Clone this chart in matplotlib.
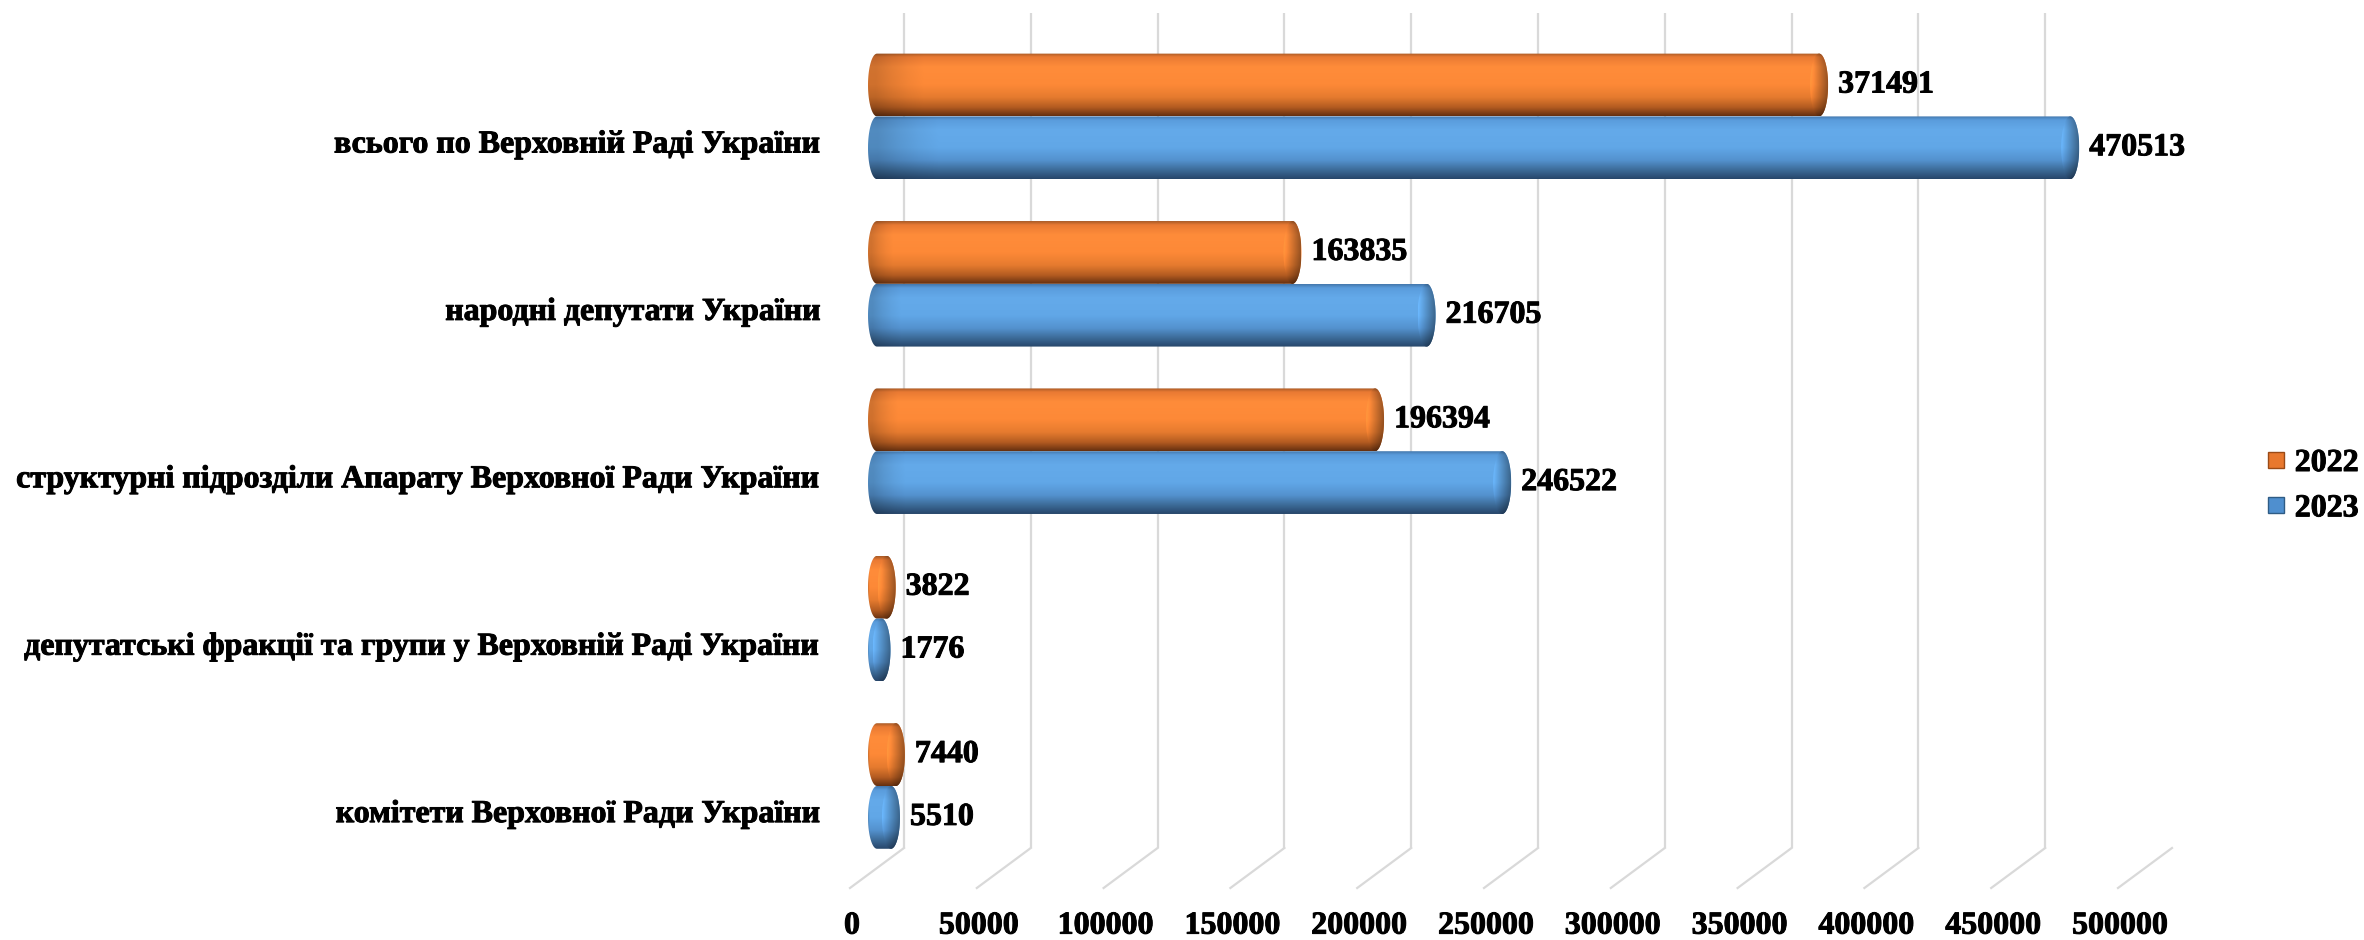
import numpy as np
import matplotlib
matplotlib.use("Agg")
import matplotlib.pyplot as plt
from matplotlib.path import Path
from matplotlib.patches import PathPatch
from matplotlib.lines import Line2D
from matplotlib.colors import to_rgb
from matplotlib.transforms import ScaledTranslation
import matplotlib.patheffects as pe

# ---------------- data ----------------
categories = [
    "комітети Верховної Ради України",
    "депутатські фракції та групи у Верховній Раді України",
    "структурні підрозділи Апарату Верховної Ради України",
    "народні депутати України",
    "всього по Верховній Раді України",
]
values_2022 = [7440, 3822, 196394, 163835, 371491]
values_2023 = [5510, 1776, 246522, 216705, 470513]
series_names = ["2022", "2023"]
x_ticks = [0, 50000, 100000, 150000, 200000, 250000, 300000, 350000, 400000, 450000, 500000]

# ---------------- style ----------------
W_PX, H_PX, DPI = 2364, 940, 100
FONT = "Liberation Serif"
FS = 23
plt.rcParams["font.family"] = [FONT, "DejaVu Serif"]
plt.rcParams["font.weight"] = "bold"
heavy = [pe.withStroke(linewidth=0.7, foreground="black")]

fig = plt.figure(figsize=(W_PX / DPI, H_PX / DPI), dpi=DPI)
fig.patch.set_facecolor("white")

AX_L, AX_W = 877, 1268          # pixels
AX_B, AX_T = 52, 940
CAT_PX0, CAT_STEP = 154, 167.4  # pixel of category 0 centre, spacing
ax = fig.add_axes([AX_L / W_PX, AX_B / H_PX, AX_W / W_PX, (AX_T - AX_B) / H_PX])
XMAX = 500000
sx = AX_W / XMAX                 # px per unit
def py(p):                       # figure pixel (from bottom) -> y data
    return (p - CAT_PX0) / CAT_STEP

ylo, yhi = py(AX_B), py(AX_T)
for s in ax.spines.values():
    s.set_visible(False)

# ---- 3-D style gridlines (back wall + floor) ----
depth_px = 27
grid_c = "#d9d9d9"
for t in x_ticks:
    xb = t + depth_px / sx
    xf = t - depth_px / sx
    ax.plot([xb, xb], [py(927), py(92)], color=grid_c, lw=1.6, zorder=0, solid_capstyle="butt")
    ax.plot([xb, xf], [py(92), py(52)], color=grid_c, lw=1.6, zorder=0, clip_on=False)

# ---- cylinder bars ----
def stops_to_grad(stops, n=200):
    ts = np.array([s[0] for s in stops])
    cs = np.array([to_rgb(s[1]) for s in stops])
    t = np.linspace(0, 1, n)
    return np.stack([np.interp(t, ts, cs[:, k]) for k in range(3)], axis=1)

orange_stops = [(0.0, "#a85a26"), (0.06, "#e97a33"), (0.22, "#ff8c3a"), (0.5, "#fd8937"),
                (0.7, "#e67b2f"), (0.86, "#b45c21"), (1.0, "#653010")]
blue_stops = [(0.0, "#4478ad"), (0.06, "#5a9cdc"), (0.22, "#64aaea"), (0.5, "#61a7e7"),
              (0.7, "#5492cf"), (0.86, "#3c6a97"), (1.0, "#27466a")]
grads = {"2022": stops_to_grad(orange_stops), "2023": stops_to_grad(blue_stops)}

CAP_PX = 9
cap = CAP_PX / sx
BAR_H = 0.375

def capsule(v, yc, h):
    th = np.linspace(np.pi / 2, 3 * np.pi / 2, 60)
    left = np.column_stack([cap * np.cos(th), yc + h / 2 * np.sin(th)])
    th2 = np.linspace(-np.pi / 2, np.pi / 2, 60)
    right = np.column_stack([v + cap * np.cos(th2), yc + h / 2 * np.sin(th2)])
    pts = np.vstack([left, right, left[:1]])
    return Path(pts, closed=True)

def ellipse_path(xc, yc, rx, ry):
    th = np.linspace(0, 2 * np.pi, 120)
    return Path(np.column_stack([xc + rx * np.cos(th), yc + ry * np.sin(th)]), closed=True)

def clipped_image(img, extent, path, z):
    patch = PathPatch(path, facecolor="none", edgecolor="none")
    ax.add_patch(patch)
    im = ax.imshow(img, extent=extent, aspect="auto", interpolation="bilinear",
                   zorder=z, origin="upper")
    im.set_clip_path(patch)
    im.set_clip_box(fig.bbox)
    return im

def draw_cyl(v, yc, h, grad):
    nx = 60
    body = np.repeat(grad[:, None, :], nx, axis=1)
    # slightly darker at the left silhouette
    shade = np.ones(nx)
    shade[:3] = [0.82, 0.9, 0.96]
    body = np.clip(body * shade[None, :, None], 0, 1)
    clipped_image(body, [-cap, v + cap, yc - h / 2, yc + h / 2], capsule(v, yc, h), 2)
    # end cap face
    hx = np.linspace(1.10, 0.60, 40)
    capimg = np.clip(grad[:, None, :] * hx[None, :, None], 0, 1)
    clipped_image(capimg, [v - cap, v + cap, yc - h / 2, yc + h / 2],
                  ellipse_path(v, yc, cap, h / 2), 3)

ypos = np.arange(len(categories))
for i, (v22, v23) in enumerate(zip(values_2022, values_2023)):
    yo = ypos[i] + BAR_H / 2
    yb = ypos[i] - BAR_H / 2
    draw_cyl(v22, yo, BAR_H, grads["2022"])
    draw_cyl(v23, yb, BAR_H, grads["2023"])
    for v, yc in ((v22, yo), (v23, yb)):
        ax.annotate(str(v), xy=(v, yc), xytext=(CAP_PX + 10, 0), textcoords="offset pixels",
                    ha="left", va="center", fontsize=FS, fontweight="bold", color="black",
                    zorder=5, path_effects=heavy)

# ---- axes: ticks ----
ax.set_xlim(0, XMAX)
ax.set_ylim(ylo, yhi)
ax.set_xticks(x_ticks)
ax.set_xticklabels([str(t) for t in x_ticks], fontsize=FS, fontweight="bold")
ax.tick_params(axis="x", length=0, pad=17)
shift = ScaledTranslation(-(depth_px - 2) / DPI, 0, fig.dpi_scale_trans)
for lab in ax.get_xticklabels():
    lab.set_transform(lab.get_transform() + shift)
    lab.set_path_effects(heavy)

ax.set_yticks(ypos - 0.15)
ax.set_yticklabels(categories, fontsize=FS, fontweight="bold")
ax.tick_params(axis="y", length=0, pad=(AX_L - 822) * 72 / DPI)
for lab in ax.get_yticklabels():
    lab.set_path_effects(heavy)

# ---- legend ----
handles = [Line2D([], [], marker="s", linestyle="none", markersize=11,
                  markerfacecolor=c, markeredgecolor=ec, markeredgewidth=1.0)
           for c, ec in (("#e8782e", "#9a4a16"), ("#4f8fcf", "#2f5c85"))]
leg = fig.legend(handles, series_names, loc="center left",
                 bbox_to_anchor=(2266 / W_PX, (H_PX - 486) / H_PX), frameon=False,
                 prop={"family": FONT, "weight": "bold", "size": FS},
                 handlelength=0.6, handletextpad=0.3, labelspacing=0.5, borderpad=0,
                 borderaxespad=0)
for t in leg.get_texts():
    t.set_path_effects(heavy)

fig.savefig("out.png", dpi=DPI, facecolor="white")
